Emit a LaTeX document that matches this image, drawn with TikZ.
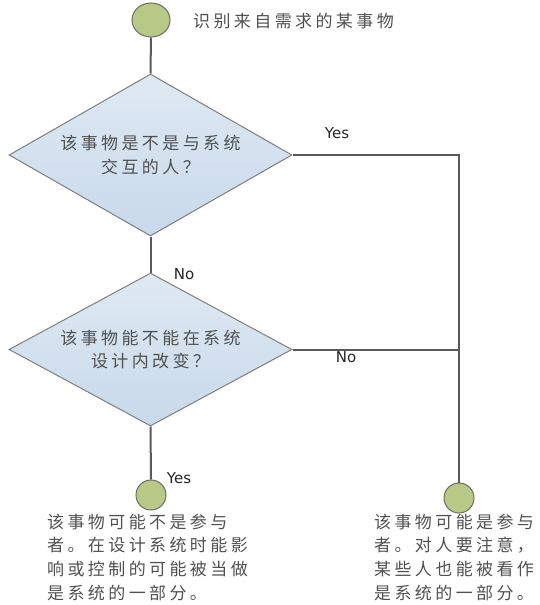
\documentclass[tikz,border=0pt]{standalone}
\usepackage{fontspec}
\newfontfamily\cjk[LetterSpace=20]{Noto Sans CJK SC}
\newfontfamily\latinlbl{DejaVu Sans}
\usetikzlibrary{shapes.geometric}
\definecolor{linegray}{HTML}{5A5A5A}
\definecolor{txtgray}{HTML}{505050}
\definecolor{dborder}{HTML}{7F7F7F}
\definecolor{dtop}{HTML}{DFE9F3}
\definecolor{dbot}{HTML}{C8D9EB}
\definecolor{cfill}{HTML}{B8C987}
\definecolor{cborder}{HTML}{6E6E60}
\tikzset{
  cjktext/.style={font=\cjk\fontsize{17}{23.7}\selectfont, text=txtgray, inner sep=0pt},
  decision/.style={diamond, draw=dborder, line width=1pt, top color=dtop, bottom color=dbot,
    inner sep=0pt, aspect=1.75, minimum width=283pt, minimum height=162pt, align=center,
    font=\cjk\fontsize{17}{23.7}\selectfont, text=txtgray},
  terminal/.style={circle, draw=cborder, line width=1pt, fill=cfill, inner sep=0pt, minimum size=30pt},
  conn/.style={draw=linegray, line width=2pt},
  lbl/.style={font=\latinlbl\fontsize{15}{18}\selectfont, text=black!85, inner sep=0pt}
}
\begin{document}
\begin{tikzpicture}[x=1pt,y=-1pt]
\useasboundingbox (0,0) rectangle (539,605);
% nodes
\node[ellipse, draw=cborder, line width=1pt, fill=cfill, inner sep=0pt,
      minimum width=38pt, minimum height=34pt] (start) at (151,20) {};
\node[cjktext, anchor=west] (startlbl) at (193,21) {识别来自需求的某事物};
\node[decision] (d1) at (150.5,155) {该事物是不是与系统\\交互的人？};
\node[decision, minimum height=153pt] (d2) at (150.5,349.5) {该事物能不能在系统\\设计内改变？};
\node[terminal] (endL) at (151,495) {};
\node[terminal] (endR) at (459,498) {};
\node[cjktext, anchor=north west, align=left] (txtL) at (47,513.5)
  {该事物可能不是参与\\者。在设计系统时能影\\响或控制的可能被当做\\是系统的一部分。};
\node[cjktext, anchor=north west, align=left] (txtR) at (374,513.5)
  {该事物可能是参与\\者。对人要注意，\\某些人也能被看作\\是系统的一部分。};
% connectors
\draw[conn] (start.south) -- (d1.north);
\draw[conn] (d1.east) -| (endR.north);
\draw[conn] (d1.south) -- (d2.north);
\coordinate (join) at (d2.east -| endR.north);
\draw[conn] (d2.east) -- (join);
\draw[conn] (d2.south) -- (endL.north);
% labels
\node[lbl] (yes1) at (337,133) {Yes};
\node[lbl] (no1) at (184,274) {No};
\node[lbl] (no2) at (346,357) {No};
\node[lbl] (yes2) at (179,478) {Yes};
\end{tikzpicture}
\end{document}
